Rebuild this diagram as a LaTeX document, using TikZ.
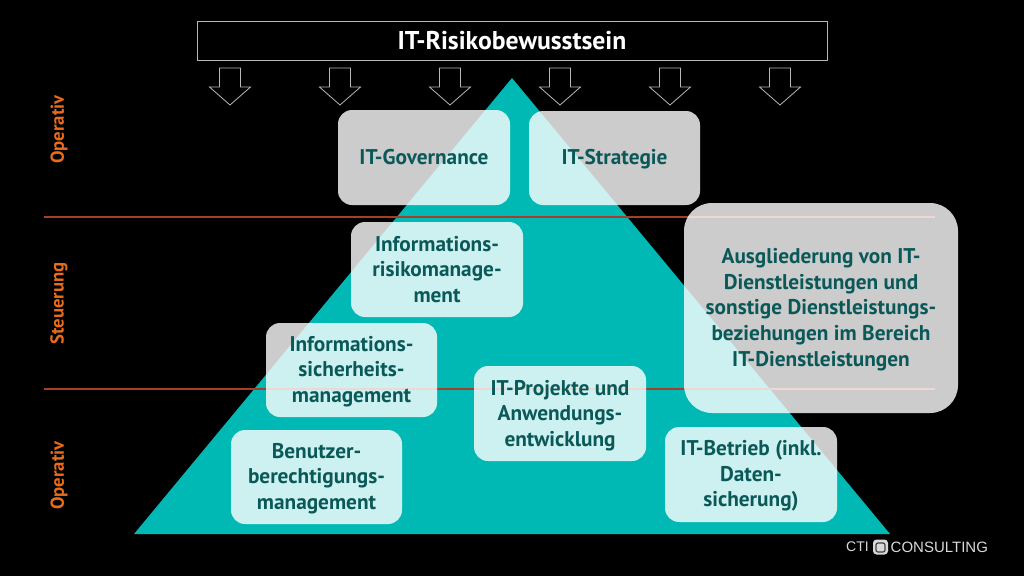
\documentclass[tikz,border=0pt]{standalone}
\usepackage{fontspec}
\setmainfont{PT Sans}
\newfontfamily\logofont{Liberation Sans}
\definecolor{teal1}{RGB}{0,185,180}
\definecolor{txt}{RGB}{10,88,88}
\definecolor{orng}{RGB}{232,108,28}
\definecolor{sepred}{RGB}{165,62,42}
\tikzset{
 card/.style={fill=white,fill opacity=.8,rounded corners=14pt,inner sep=0pt,anchor=center},
 cardt/.style={inner sep=0pt,align=center,text=txt,font=\fontsize{21.3}{25.7}\selectfont\bfseries},
 lvl/.style={rotate=90,text=orng,font=\fontsize{18.7}{20}\selectfont\bfseries},
 dn/.style={draw=white!72!black,line width=.8pt,fill=black},
 sepline/.style={draw=sepred,line width=1.2pt},
 logo/.style={text=white!85!black,inner sep=0pt,font=\logofont\fontsize{15}{15}\selectfont}
}
\newcommand{\dnarrow}[1]{\draw[dn] (#1-10.5,68) -- (#1+10.5,68) -- (#1+10.5,87) -- (#1+20.5,87) -- (#1,105) -- (#1-20.5,87) -- (#1-10.5,87) -- cycle;}
\begin{document}
\begin{tikzpicture}[x=1pt,y=-1pt]
\useasboundingbox (0,0) rectangle (1024,576);
\fill[black] (0,0) rectangle (1024,576);
\fill[teal1] (512,78) -- (890,534) -- (134,534) -- cycle;
\coordinate (la) at (44,217); \coordinate (lb) at (935,217);
\coordinate (lc) at (44,389); \coordinate (ld) at (935,389);
\draw[sepline] (la) -- (lb);
\draw[sepline] (lc) -- (ld);
\node[draw=white!72!black,line width=.8pt,minimum width=630pt,minimum height=39pt,inner sep=0pt,text=white,font=\fontsize{25.7}{28}\selectfont\bfseries] (title) at (512,40.5) {IT-Risikobewusstsein};
\dnarrow{230}\dnarrow{340}\dnarrow{450}\dnarrow{560}\dnarrow{670}\dnarrow{780}
\node[lvl] (o1) at (59,129.5) {Operativ};
\node[lvl] (s1) at (59,303.5) {Steuerung};
\node[lvl] (o2) at (59,475.5) {Operativ};
\node[card,minimum width=172pt,minimum height=95pt,label={[cardt]center:IT-Governance}] (gov) at (424,157.5) {};
\node[card,minimum width=171pt,minimum height=94pt,label={[cardt,yshift=-1pt]center:IT-Strategie}] (str) at (614.5,158) {};
\node[card,minimum width=172pt,minimum height=95pt,label={[cardt]center:{Informations-\\risikomanage-\\ment}}] (irm) at (437,269.5) {};
\node[card,minimum width=171pt,minimum height=94pt,label={[cardt,yshift=-1.5pt]center:{Informations-\\sicherheits-\\management}}] (ism) at (351.5,370) {};
\node[card,minimum width=171pt,minimum height=94pt,label={[cardt,yshift=-1.5pt]center:{Benutzer-\\berechtigungs-\\management}}] (ben) at (316.5,477) {};
\node[card,minimum width=172pt,minimum height=95pt,label={[cardt,yshift=-2pt]center:{IT-Projekte und\\Anwendungs-\\entwicklung}}] (prj) at (560,413.5) {};
\node[card,minimum width=172pt,minimum height=95pt,label={[cardt,yshift=-1.5pt]center:{IT-Betrieb (inkl.\\Daten-\\sicherung)}}] (bet) at (751,474.5) {};
\node[card,rounded corners=28pt,minimum width=274pt,minimum height=210pt,label={[cardt,yshift=-1.5pt]center:{Ausgliederung von IT-\\Dienstleistungen und\\sonstige Dienstleistungs-\\beziehungen im Bereich\\IT-Dienstleistungen}}] (aus) at (821,308) {};
\node[logo,anchor=west,font=\logofont\fontsize{14}{15}\selectfont] (cti) at (846,547) {CTI};
\node[logo,anchor=west] (con) at (890.5,547) {CONSULTING};
\node[fill=white!85!black,rounded corners=3.5pt,minimum size=15pt,inner sep=0pt] (ico) at (880.5,547) {};
\node[draw=black!75,line width=1.2pt,rounded corners=2pt,minimum size=9pt,inner sep=0pt] (ici) at (880.5,547.5) {};
\end{tikzpicture}
\end{document}
